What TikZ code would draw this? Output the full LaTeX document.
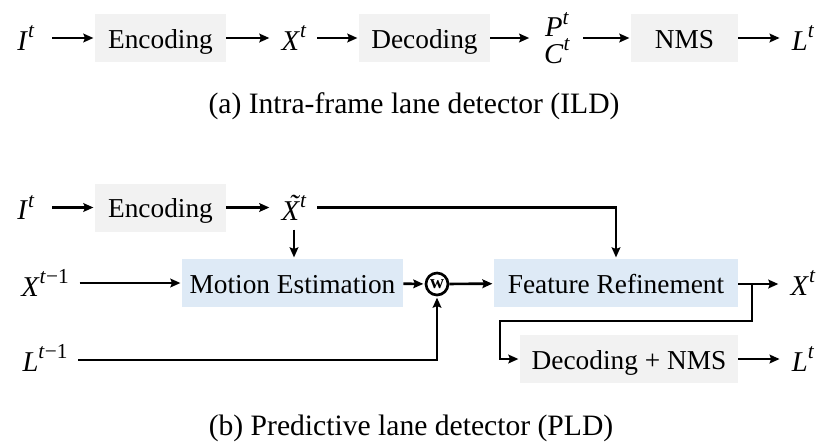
\documentclass[tikz,border=0pt]{standalone}
\usepackage{fontspec}
\setmainfont{Liberation Serif}
\usetikzlibrary{arrows.meta}
\definecolor{boxgray}{HTML}{F2F2F2}
\definecolor{boxblue}{HTML}{DEEAF6}
\newcommand{\supt}[1]{\raisebox{0.45em}{\fontsize{16}{16}\selectfont #1}}
\newcommand{\mv}[2]{\textit{#1}\supt{#2}}
\newcommand{\xtil}{\makebox[0pt][l]{\hspace{0.25em}\raisebox{0.2em}{\textit{\char"02DC}}}\textit{X}}
\begin{document}
\begin{tikzpicture}[x=0.75pt,y=-0.75pt,
  every node/.style={font=\fontsize{20.5}{24}\selectfont},
  grayb/.style={fill=boxgray,inner sep=0pt,minimum height=36pt,text height=18.5pt,text depth=3.5pt},
  blueb/.style={fill=boxblue,inner sep=0pt,minimum height=36pt,text height=18.5pt,text depth=3.5pt},
  lbl/.style={inner xsep=8pt,inner ysep=3pt,font=\fontsize{21.5}{24}\selectfont},
  arr/.style={line width=2pt,-{Stealth[length=7.5pt,width=6.5pt,inset=1.2pt]},shorten >=1pt},
  captext/.style={font=\fontsize{22.2}{26}\selectfont,anchor=base},
  wnode/.style={circle,draw,line width=2pt,minimum size=16.5pt,inner sep=0pt,font=\fontsize{14.5}{14}\selectfont\bfseries}
]
\useasboundingbox (0,0) rectangle (831,444);
% (a)
\node[lbl,inner xsep=13pt] (I1) at (26,38) {\mv{I}{\textit{t}}};
\node[grayb,minimum width=98.25pt] (enc1) at (160.5,38) {Encoding};
\node[lbl] (X1) at (294,38) {\mv{X}{\textit{t}}};
\node[grayb,minimum width=98.25pt] (dec1) at (424.5,38) {Decoding};
\node[lbl,align=center,font=\fontsize{21.5}{20}\selectfont,inner xsep=10pt] (PC1) at (557,38) {\mv{P}{\textit{t}}\\\mv{C}{\textit{t}}};
\node[grayb,minimum width=80.25pt] (nms1) at (684.5,38) {NMS};
\node[lbl] (L1) at (803,38) {\mv{L}{\textit{t}}};
\draw[arr] (I1) -- (enc1);
\draw[arr] (enc1) -- (X1);
\draw[arr] (X1) -- (dec1);
\draw[arr] (dec1) -- (PC1);
\draw[arr] (PC1) -- (nms1);
\draw[arr] (nms1) -- (L1);
\node[captext] (capa) at (414,113) {(a) Intra-frame lane detector (ILD)};
% (b)
\node[lbl,inner xsep=13pt] (I2) at (26,207.5) {\mv{I}{\textit{t}}};
\node[grayb,minimum width=98.25pt] (enc2) at (160.5,207.5) {Encoding};
\node[lbl,inner ysep=7pt] (X2) at (294,207.5) {\xtil\supt{\textit{t}}};
\node[lbl] (Xm) at (45,283) {\mv{X}{\textit{t}−1}};
\node[lbl] (Lm) at (45,358) {\mv{L}{\textit{t}−1}};
\node[blueb,minimum width=165.75pt] (me) at (292.5,283) {Motion Estimation};
\node[wnode] (w) at (437,284) {w};
\node[blueb,minimum width=183pt] (fr) at (616,283) {Feature Refinement};
\node[grayb,minimum width=163.5pt] (dn) at (629,359) {Decoding + NMS};
\node[lbl] (X3) at (803,283) {\mv{X}{\textit{t}}};
\node[lbl] (L3) at (803,359) {\mv{L}{\textit{t}}};
\coordinate (br) at (752,284);
\coordinate (bl) at (500,321);
\draw[arr] (I2) -- (enc2);
\draw[arr] (enc2) -- (X2);
\draw[arr] (X2.east) -| (fr.north);
\draw[arr] (X2.south) -- (X2.south |- me.north);
\draw[arr] (Xm.east |- me) -- (me);
\draw[arr] (me) -- (w);
\draw[arr] (w) -- (fr);
\draw[arr] (Lm.east |- 0,360) -| (w.south);
\draw[arr] (fr.east |- br) -- (X3.west |- br);
\draw[arr] (br) |- (bl) |- (dn.west);
\draw[arr] (dn) -- (L3);
\node[captext] (capb) at (411,435) {(b) Predictive lane detector (PLD)};
\end{tikzpicture}
\end{document}
